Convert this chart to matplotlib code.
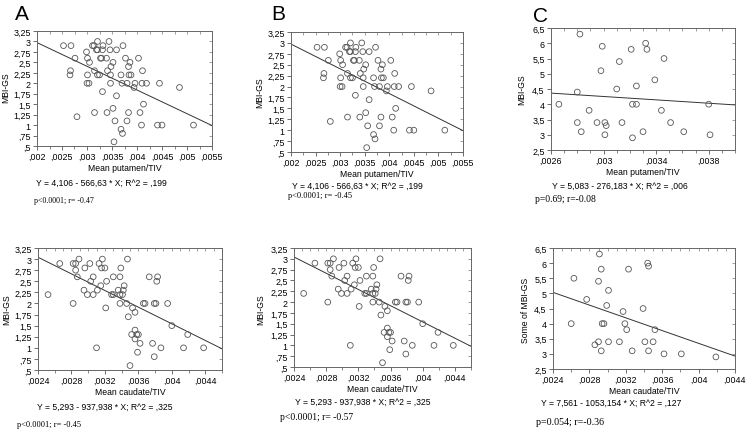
import numpy as np
import matplotlib.pyplot as plt
from matplotlib.ticker import MultipleLocator

# ---- data ----
# putamen / MBI-GS (panels A and B)
put_x = [0.00253, 0.00268, 0.00276, 0.00267, 0.00266, 0.00280, 0.00299, 0.00301,
         0.00305, 0.00301, 0.00300, 0.00304, 0.00311, 0.00314, 0.00321, 0.00319,
         0.00321, 0.00327, 0.00329, 0.00331, 0.00332, 0.00315, 0.00321, 0.00325,
         0.00331, 0.00315, 0.00339, 0.00344, 0.00346, 0.00341, 0.00348, 0.00352,
         0.00347, 0.00347, 0.00359, 0.00359, 0.00352, 0.00340, 0.00356, 0.00354,
         0.00368, 0.00371, 0.00372, 0.00377, 0.00383, 0.00386, 0.00384, 0.00388,
         0.00370, 0.00380, 0.00394, 0.00396, 0.00403, 0.00411, 0.00410, 0.00419,
         0.00413, 0.00406, 0.00383, 0.00380, 0.00409, 0.00441, 0.00450, 0.00445,
         0.00485, 0.00513, 0.00368]
put_y = [2.9, 2.9, 2.6, 2.3, 2.2, 1.2, 2.75, 2.6,
         2.5, 2.2, 2.0, 2.0, 2.9, 2.9, 3.0, 2.8,
         2.8, 2.6, 2.6, 2.8, 2.9, 2.3, 2.2, 2.2,
         1.8, 1.3, 2.6, 3.0, 2.8, 2.3, 2.4, 2.5,
         2.2, 2.0, 2.8, 1.7, 1.4, 1.3, 1.1, 0.6,
         0.9, 0.8, 2.9, 2.6, 2.4, 2.5, 2.2, 2.2,
         2.0, 2.0, 1.9, 2.0, 2.6, 2.3, 2.0, 2.0,
         1.5, 1.3, 1.3, 1.1, 1.0, 1.0, 1.0, 2.0,
         1.9, 1.0, 2.2]

# caudate / MBI-GS (panels D and E)
cau_x = [0.00252, 0.00266, 0.00282, 0.00285, 0.00289, 0.00285, 0.00287, 0.00282,
         0.00295, 0.00299, 0.00296, 0.00302, 0.00303, 0.00306, 0.00306, 0.00311,
         0.00313, 0.00315, 0.00316, 0.00317, 0.00320, 0.00321, 0.00322, 0.00310,
         0.00328, 0.00330, 0.00330, 0.00336, 0.00338, 0.00338, 0.00339, 0.00338,
         0.00341, 0.00342, 0.00343, 0.00347, 0.00346, 0.00348, 0.00353, 0.00356,
         0.00350, 0.00352, 0.00356, 0.00358, 0.00356, 0.00360, 0.00362, 0.00359,
         0.00366, 0.00368, 0.00373, 0.00379, 0.00381, 0.00383, 0.00382, 0.00377,
         0.00379, 0.00387, 0.00395, 0.00400, 0.00414, 0.00419, 0.00438]
cau_y = [2.2, 2.9, 2.9, 2.9, 3.0, 2.75, 2.6, 2.0,
         2.3, 2.2, 2.8, 2.9, 2.5, 2.6, 2.2, 2.3,
         2.9, 2.4, 2.8, 3.0, 2.8, 1.9, 2.5, 1.0,
         2.2, 2.2, 2.6, 2.3, 2.2, 2.6, 2.8, 2.0,
         2.2, 2.3, 2.4, 3.0, 2.0, 1.7, 1.9, 1.8,
         0.6, 1.3, 1.4, 1.3, 1.2, 1.3, 1.1, 0.9,
         2.0, 2.0, 2.6, 2.0, 2.0, 2.6, 2.5, 1.1,
         0.8, 1.0, 2.0, 1.5, 1.0, 1.3, 1.0]

# putamen / MBI-GS (panel C)
c_x = [0.00266, 0.00282, 0.00280, 0.00280, 0.00283, 0.00289, 0.00295, 0.00299,
       0.00298, 0.00301, 0.00302, 0.00301, 0.00312, 0.00310, 0.00314, 0.00321,
       0.00322, 0.00325, 0.00325, 0.00322, 0.00330, 0.00332, 0.00333, 0.00339,
       0.00346, 0.00344, 0.00351, 0.00361, 0.00380, 0.00381]
c_y = [4.0, 6.3, 4.4, 3.4, 3.1, 3.8, 3.4, 5.9,
       5.1, 3.4, 3.3, 3.0, 5.4, 4.5, 3.4, 5.8,
       4.0, 4.0, 4.6, 2.9, 3.1, 6.0, 5.8, 4.8,
       5.5, 3.8, 3.4, 3.1, 4.0, 3.0]

# caudate / some of MBI-GS (panel F)
f_x = [0.00260, 0.00263, 0.00277, 0.00291, 0.00293, 0.00290, 0.00286, 0.00290,
       0.00293, 0.00294, 0.00296, 0.00299, 0.00301, 0.00301, 0.00313, 0.00317,
       0.00319, 0.00321, 0.00323, 0.00327, 0.00339, 0.00341, 0.00344, 0.00345,
       0.00345, 0.00350, 0.00352, 0.00362, 0.00381, 0.00419]
f_y = [4.0, 5.5, 4.8, 6.3, 5.8, 5.4, 3.3, 3.4,
       3.1, 4.0, 4.0, 4.6, 5.1, 3.4, 3.4, 4.4,
       4.0, 3.8, 5.8, 3.1, 4.5, 3.4, 6.0, 5.9,
       3.1, 3.4, 3.8, 3.0, 3.0, 2.9]

# regression lines (intercept, slope)
fit_put = (4.106, -566.63)
fit_c = (5.083, -276.183)
fit_cau = (5.293, -937.938)
fit_f = (7.561, -1053.154)

eq_put = "Y = 4,106 - 566,63 * X; R^2 = ,199"
eq_c = "Y = 5,083 - 276,183 * X; R^2 = ,006"
eq_cau = "Y = 5,293 - 937,938 * X; R^2 = ,325"
eq_f = "Y = 7,561 - 1053,154 * X; R^2 = ,127"

p_texts = ["p<0.0001; r= -0.47", "p<0.0001; r= -0.45", "p=0.69; r=-0.08",
           "p<0.0001; r= -0.45", "p<0.0001; r= -0.57", "p=0.054; r=-0.36"]

put_ticks = [0.002, 0.0025, 0.003, 0.0035, 0.004, 0.0045, 0.005, 0.0055]
put_ticklabels = [",002", ",0025", ",003", ",0035", ",004", ",0045", ",005", ",0055"]
c_ticks = [0.0026, 0.003, 0.0034, 0.0038]
c_ticklabels = [",0026", ",003", ",0034", ",0038"]
cau_ticks = [0.0024, 0.0028, 0.0032, 0.0036, 0.004, 0.0044]
cau_ticklabels = [",0024", ",0028", ",0032", ",0036", ",004", ",0044"]

mbi_ticks = [0.5, 0.75, 1, 1.25, 1.5, 1.75, 2, 2.25, 2.5, 2.75, 3, 3.25]
mbi_ticklabels = [",5", ",75", "1", "1,25", "1,5", "1,75", "2", "2,25", "2,5", "2,75", "3", "3,25"]
sum_ticks = [2.5, 3, 3.5, 4, 4.5, 5, 5.5, 6, 6.5]
sum_ticklabels = ["2,5", "3", "3,5", "4", "4,5", "5", "5,5", "6", "6,5"]

W, H = 748, 431
SANS = "Liberation Sans"
SERIF = "Liberation Serif"

fig = plt.figure(figsize=(W / 100, H / 100), dpi=100)
fig.patch.set_facecolor("white")


def px(x, y):
    return x / W, 1 - y / H


def panel(box, xs, ys, fit, xlim, xt, xtl, xminor, xtop, ylim, yt, ytl,
          xlabel, ylabel, ylab_pos, eq, eq_pos, ptxt, p_pos, p_size):
    l, r, t, b = box
    ax = fig.add_axes([l / W, 1 - b / H, (r - l) / W, (b - t) / H])
    ax.scatter(xs, ys, s=17, facecolors="none", edgecolors="#555555", linewidths=0.6, zorder=3)
    xx = np.array(xlim)
    ax.plot(xx, fit[0] + fit[1] * xx, color="#333333", lw=0.7)
    ax.set_xlim(xlim)
    ax.set_ylim(ylim)
    ax.set_xticks(xt)
    ax.set_xticklabels(xtl, fontsize=6.4, family=SANS)
    ax.set_yticks(yt)
    ax.set_yticklabels(ytl, fontsize=6.4, family=SANS)
    ax.xaxis.set_minor_locator(MultipleLocator(xminor))
    for s in ax.spines.values():
        s.set_color("#666666")
        s.set_linewidth(0.7)
    ax.tick_params(which="major", length=3, width=0.6, color="#555555", pad=1.5)
    ax.tick_params(which="minor", length=2, width=0.5, color="#555555")
    # inward ticks on top and right
    top = ax.secondary_xaxis("top")
    top.set_xticks(np.arange(xlim[0], xlim[1] + 1e-9, xtop))
    top.tick_params(direction="in", length=2.5, width=0.5, color="#777777", labeltop=False)
    top.spines["top"].set_visible(False)
    right = ax.secondary_yaxis("right")
    right.set_yticks(yt)
    right.tick_params(direction="in", length=2.5, width=0.5, color="#777777", labelright=False)
    right.spines["right"].set_visible(False)
    ax.set_xlabel(xlabel, fontsize=6.2, family=SANS, labelpad=1.5)
    fig.text(*px(*ylab_pos), ylabel, fontsize=6.2, family=SANS, rotation=90,
             ha="center", va="center")
    fig.text(*px(*eq_pos), eq, fontsize=6.2, family=SANS, ha="center", va="center")
    fig.text(*px(*p_pos), ptxt, fontsize=p_size, family=SERIF, ha="left", va="center")
    return ax


put_lim = (0.002, 0.0055)
cau_lim = (0.0024, 0.0046)

panel((37, 212, 32, 147), put_x, put_y, fit_put, put_lim, put_ticks, put_ticklabels,
      0.00025, 0.00025, (0.5, 3.25), mbi_ticks, mbi_ticklabels,
      "Mean putamen/TIV", "MBI-GS", (6, 88), eq_put, (101, 183), p_texts[0], (34, 201), 5.7)
panel((291, 463, 33, 153), put_x, put_y, fit_put, put_lim, put_ticks, put_ticklabels,
      0.00025, 0.00025, (0.5, 3.25), mbi_ticks, mbi_ticklabels,
      "Mean putamen/TIV", "MBI-GS", (260, 93), eq_put, (357, 186), p_texts[1], (288, 196), 6.0)
panel((551, 735, 29, 151), c_x, c_y, fit_c, (0.0026, 0.004), c_ticks, c_ticklabels,
      0.0001, 0.0001, (2.5, 6.5), sum_ticks, sum_ticklabels,
      "Mean putamen/TIV", "MBI-GS", (522, 90), eq_c, (620, 186), p_texts[2], (535, 200), 6.9)
panel((38, 222, 249, 371), cau_x, cau_y, fit_cau, cau_lim, cau_ticks, cau_ticklabels,
      0.0002, 0.0001, (0.5, 3.25), mbi_ticks, mbi_ticklabels,
      "Mean caudate/TIV", "MBI-GS", (7, 310), eq_cau, (105, 407), p_texts[3], (17, 425), 6.0)
panel((294, 471, 249, 368), cau_x, cau_y, fit_cau, cau_lim, cau_ticks, cau_ticklabels,
      0.0002, 0.0001, (0.5, 3.25), mbi_ticks, mbi_ticklabels,
      "Mean caudate/TIV", "MBI-GS", (261, 310), eq_cau, (363, 402), p_texts[4], (280, 418), 6.9)
panel((553, 735, 249, 370), f_x, f_y, fit_f, (0.0024, 0.0044), cau_ticks, cau_ticklabels,
      0.0002, 0.0001, (2.5, 6.5), sum_ticks, sum_ticklabels,
      "Mean caudate/TIV", "Some of MBI-GS", (525, 310), eq_f, (611, 403), p_texts[5], (536, 423), 7.2)

for letter, (x, y) in zip("ABC", [(15, 15), (271, 15), (533, 16)]):
    fig.text(*px(x, y), letter, fontsize=15, family=SANS, ha="left", va="center")

fig.savefig("out.png", dpi=100, facecolor="white")
